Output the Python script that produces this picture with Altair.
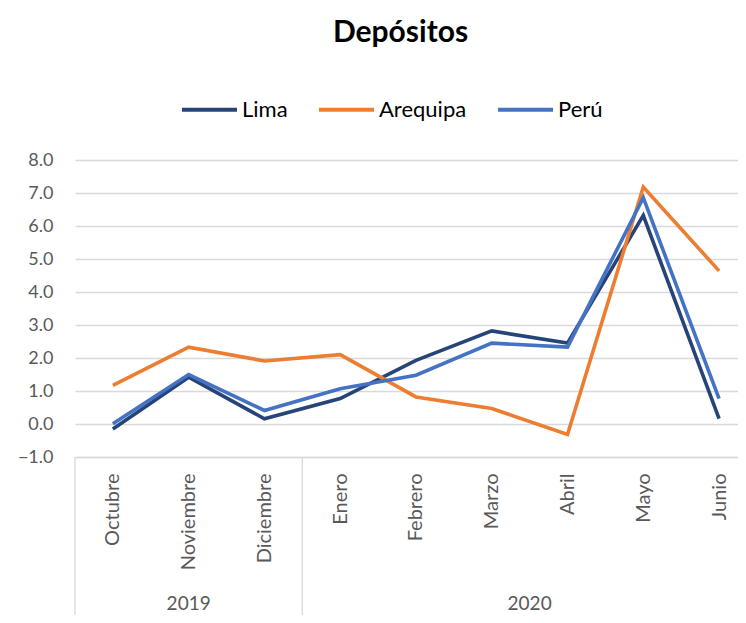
import altair as alt
import pandas as pd

months = ["Octubre", "Noviembre", "Diciembre", "Enero", "Febrero",
          "Marzo", "Abril", "Mayo", "Junio"]
years = ["2019", "2019", "2019", "2020", "2020", "2020", "2020", "2020", "2020"]
series = ["Lima", "Arequipa", "Perú"]
lima = [-0.15, 1.42, 0.16, 0.77, 1.93, 2.82, 2.45, 6.32, 0.16]
arequipa = [1.17, 2.33, 1.91, 2.10, 0.82, 0.47, -0.32, 7.18, 4.64]
peru = [0.01, 1.50, 0.41, 1.07, 1.48, 2.45, 2.33, 6.86, 0.77]
colors = ["#264478", "#ED7D31", "#4472C4"]

rows = []
for name, vals in zip(series, [lima, arequipa, peru]):
    for i, (m, v) in enumerate(zip(months, vals)):
        rows.append({"idx": i, "mes": m, "serie": name, "valor": v,
                     "orden": series.index(name)})
df = pd.DataFrame(rows)

# year groups derived from the month/year lists
ydf = pd.DataFrame({"idx": range(len(months)), "anio": years})
yg = ydf.groupby("anio")["idx"].agg(["min", "max"]).reset_index()
yg["centro"] = (yg["min"] + yg["max"]) / 2
yg["borde"] = yg["min"] - 0.5

W, H = 663, 297
FONT = "Lato"
GRAY = "#595959"
GRID = "#d9d9d9"

label_arr = "[" + ",".join("'" + m + "'" for m in months) + "]"
xscale = alt.Scale(domain=[-0.5, 8.25], nice=False, zero=False)

lines = alt.Chart(df).mark_line(strokeWidth=3.6).encode(
    x=alt.X("idx:Q", scale=xscale,
            axis=alt.Axis(values=list(range(len(months))),
                          labelExpr=label_arr + "[datum.value]",
                          labelAngle=270, labelAlign="right",
                          labelBaseline="middle", labelPadding=16,
                          ticks=False, grid=False, domainColor=GRID,
                          domainWidth=1.3, labelFontSize=20,
                          labelColor=GRAY, labelFont=FONT, title=None)),
    y=alt.Y("valor:Q", scale=alt.Scale(domain=[-1, 8], nice=False, zero=False),
            axis=alt.Axis(values=list(range(-1, 9)), format=".1f",
                          domain=False, ticks=False, gridColor=GRID,
                          gridWidth=1.3, labelFontSize=18, labelColor=GRAY,
                          labelFont=FONT, labelPadding=22, title=None)),
    color=alt.Color("serie:N",
                    scale=alt.Scale(domain=series, range=colors),
                    legend=alt.Legend(title=None, orient="none",
                                      direction="horizontal",
                                      legendX=105, legendY=-80,
                                      symbolType="stroke",
                                      symbolSize=3025, symbolStrokeWidth=4,
                                      labelFontSize=22, labelFont=FONT,
                                      labelFontWeight="normal",
                                      labelColor="#000000", labelOffset=3,
                                      columnPadding=23)),
    order=alt.Order("orden:Q"),
    detail="serie:N",
)

seps = alt.Chart(yg).mark_rule(color=GRID, strokeWidth=1.3).encode(
    x=alt.X("borde:Q", scale=xscale),
    y=alt.value(H),
    y2=alt.value(H + 160),
)

year_text = alt.Chart(yg).mark_text(
    fontSize=19, font=FONT, color=GRAY, baseline="middle"
).encode(
    x=alt.X("centro:Q", scale=xscale),
    y=alt.value(H + 147),
    text="anio:N",
)

chart = alt.layer(lines, seps, year_text).properties(
    width=W, height=H,
    title=alt.TitleParams("Depósitos", fontSize=30, font=FONT,
                          fontWeight="bold", color="#000000",
                          anchor="middle", offset=32, dx=-6),
    autosize=alt.AutoSizeParams(type="none"),
    padding={"left": 67, "top": 152, "right": 0, "bottom": 158},
).configure_view(stroke=None)

chart.save("out.html", embed_options={"renderer": "svg", "actions": False})
